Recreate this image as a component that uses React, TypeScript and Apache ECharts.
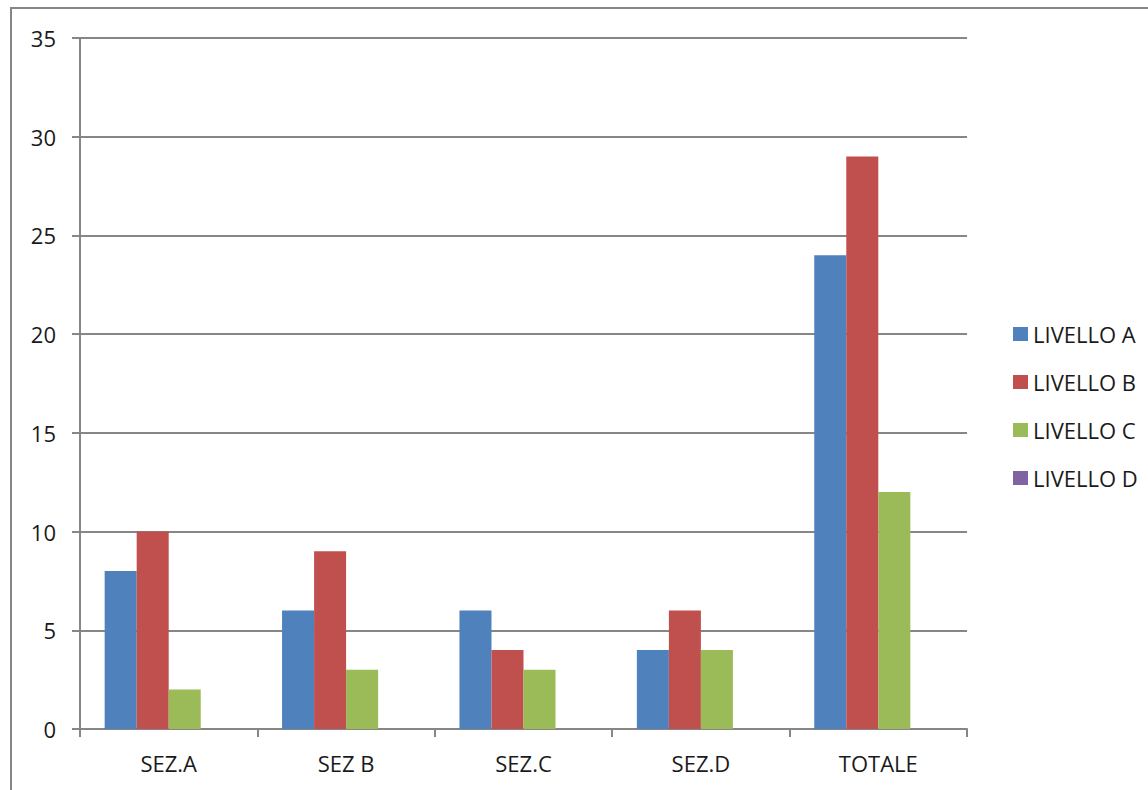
import React, { useEffect, useRef } from "react";
import * as echarts from "echarts";

const categories = ["SEZ.A", "SEZ B", "SEZ.C", "SEZ.D", "TOTALE"];
const seriesNames = ["LIVELLO A", "LIVELLO B", "LIVELLO C", "LIVELLO D"];
const livelloA = [8, 6, 6, 4, 24];
const livelloB = [10, 9, 4, 6, 29];
const livelloC = [2, 3, 3, 4, 12];
const livelloD = [0, 0, 0, 0, 0];
const colors = ["#4F81BD", "#C0504D", "#9BBB59", "#8064A2"];

const FONT = "Open Sans";
const GRAY = "#868686";
const TXT = "#1a1a1a";

export default function App() {
  const ref = useRef<HTMLDivElement>(null);
  useEffect(() => {
    if (!ref.current) return;
    const chart = echarts.init(ref.current, null, { renderer: "svg" });
    const values = [livelloA, livelloB, livelloC, livelloD];
    chart.setOption({
      animation: false,
      backgroundColor: "#ffffff",
      textStyle: { fontFamily: FONT },
      graphic: [
        {
          type: "rect",
          shape: { x: 11, y: 8, width: 1300, height: 900 },
          style: { fill: "none", stroke: GRAY, lineWidth: 2 },
          silent: true,
        },
      ],
      grid: { left: 80, right: 181, top: 38, bottom: 61, containLabel: false },
      legend: {
        orient: "vertical",
        left: 1008,
        top: 318,
        itemWidth: 15,
        itemHeight: 14,
        itemGap: 26,
        icon: "rect",
        data: seriesNames,
        textStyle: { fontFamily: FONT, fontSize: 22, color: TXT },
      },
      xAxis: {
        type: "category",
        data: categories,
        axisLine: { lineStyle: { color: GRAY, width: 2 } },
        axisTick: { show: true, length: 8, lineStyle: { color: GRAY, width: 2 } },
        axisLabel: { fontFamily: FONT, fontSize: 22, color: TXT, margin: 23 },
        splitLine: { show: false },
      },
      yAxis: {
        type: "value",
        min: 0,
        max: 35,
        interval: 5,
        axisLine: { show: true, lineStyle: { color: GRAY, width: 2 } },
        axisTick: { show: true, length: 8, lineStyle: { color: GRAY, width: 2 } },
        axisLabel: { fontFamily: FONT, fontSize: 22, color: TXT, margin: 24 },
        splitLine: { show: true, lineStyle: { color: GRAY, width: 2 } },
      },
      series: seriesNames.map((name, i) => ({
        name,
        type: "bar",
        data: values[i],
        itemStyle: { color: colors[i] },
        barGap: "0%",
        barCategoryGap: "27.8%",
      })),
    });
    return () => chart.dispose();
  }, []);
  return (
    <div
      ref={ref}
      style={{ position: "absolute", left: 0, top: 0, width: 1148, height: 790 }}
    />
  );
}
